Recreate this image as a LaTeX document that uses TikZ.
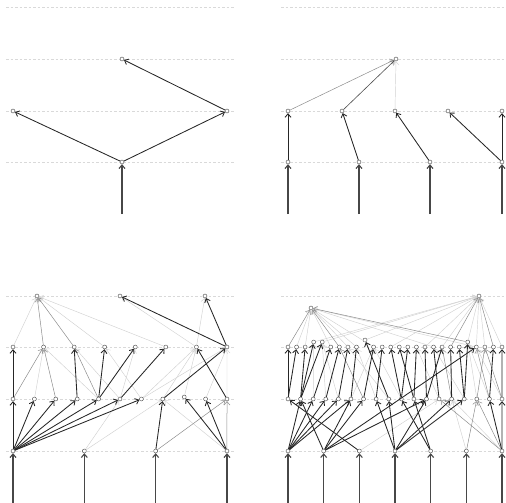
\documentclass[tikz,border=0pt]{standalone}
\usetikzlibrary{arrows.meta}

\begin{document}
\begin{tikzpicture}[x=1pt,y=-1pt]
  \tikzstyle{neuron}=[circle,draw=black!75,fill=white,line width=0.4pt,inner sep=0pt,minimum size=4pt]
  \tikzstyle{guide}=[black!15,dash pattern=on 2.5pt off 2pt,line width=0.5pt]
  \tikzstyle{feed}=[-{Straight Barb[length=3.5pt,width=6pt]},black!72,line width=1.1pt]
  \tikzstyle{dk}=[-{Straight Barb[length=3.5pt,width=6pt]},black!85,line width=0.85pt]
  \tikzstyle{md}=[-{Straight Barb[length=3.5pt,width=6pt]},black!45,line width=0.5pt]
  \tikzstyle{lt}=[-{Straight Barb[length=3.5pt,width=6pt]},black!18,line width=0.45pt]

  \useasboundingbox (0,0) rectangle (506,503);

  % -- Level guides --
  \foreach \yy in {7,59,111,162} {
    \draw[guide] (6,\yy) -- (234,\yy);
    \draw[guide] (281,\yy) -- (506,\yy);
  }
  \foreach \yy in {296,347,399,451} {
    \draw[guide] (6,\yy) -- (234,\yy);
    \draw[guide] (281,\yy) -- (506,\yy);
  }

  % -- Panel a (top left) --
  \node[neuron] (a-1-1) at (122,59) {};
  \node[neuron] (a-2-1) at (13,111) {};
  \node[neuron] (a-2-2) at (227,111) {};
  \node[neuron] (a-3-1) at (122,162) {};
  \coordinate (a-in-1) at (122,214);
  \draw[feed] (a-in-1) -- (a-3-1);
  \draw[dk] (a-3-1) -- (a-2-1);
  \draw[dk] (a-3-1) -- (a-2-2);
  \draw[dk] (a-2-2) -- (a-1-1);

  % -- Panel b (top right) --
  \node[neuron] (b-1-1) at (396,59) {};
  \foreach \k/\xx in {1/288,2/342,3/395,4/448,5/502}
    \node[neuron] (b-2-\k) at (\xx,111) {};
  \foreach \k/\xx in {1/288,2/359,3/430,4/502} {
    \node[neuron] (b-3-\k) at (\xx,162) {};
    \coordinate (b-in-\k) at (\xx,214);
    \draw[feed] (b-in-\k) -- (b-3-\k);
  }
  \foreach \s/\t in {3-1/2-1,3-2/2-2,3-3/2-3,3-4/2-4,3-4/2-5}
    \draw[dk] (b-\s) -- (b-\t);
  \draw[md] (b-2-1) -- (b-1-1);
  \draw[md,black!70,line width=0.6pt] (b-2-2) -- (b-1-1);
  \draw[lt] (b-2-3) -- (b-1-1);

  % -- Panel c (bottom left) --
  \foreach \k/\xx in {1/37,2/120,3/205}
    \node[neuron] (c-1-\k) at (\xx,296) {};
  \foreach \k in {1,...,8} {
    \pgfmathsetmacro\xx{13+30.57*(\k-1)}
    \node[neuron] (c-2-\k) at (\xx,347) {};
  }
  \foreach \k in {1,...,11} {
    \pgfmathsetmacro\xx{13+21.4*(\k-1)}
    \pgfmathsetmacro\yy{\k==9 ? 397 : 399}
    \node[neuron] (c-3-\k) at (\xx,\yy) {};
  }
  \foreach \k in {1,...,4} {
    \pgfmathsetmacro\xx{13+71.33*(\k-1)}
    \node[neuron] (c-4-\k) at (\xx,451) {};
    \coordinate (c-in-\k) at (\xx,503);
    \draw[feed] (c-in-\k) -- (c-4-\k);
  }
  \foreach \s/\t in {4-2/3-6,4-2/3-8,4-4/3-8,3-2/2-2,3-5/2-2,3-6/2-3,3-6/2-5,3-7/2-4,
      3-7/2-7,3-8/2-7,3-9/2-7,3-10/2-8,3-11/2-8,3-7/2-8,2-1/1-1,2-4/1-1,2-6/1-1,2-7/1-2,2-7/1-3}
    \draw[lt] (c-\s) -- (c-\t);
  \foreach \s/\t in {4-3/3-11,4-4/3-11,3-1/2-2,3-3/2-2,3-5/2-3,2-2/1-1,2-3/1-1}
    \draw[md] (c-\s) -- (c-\t);
  \foreach \s/\t in {4-1/3-1,4-1/3-2,4-1/3-3,4-1/3-4,4-1/3-5,4-1/3-6,4-1/3-7,4-3/3-8,
      4-4/3-9,4-4/3-10,3-1/2-1,3-4/2-3,3-5/2-4,3-5/2-5,3-6/2-6,3-8/2-8,3-11/2-7,2-8/1-2,2-8/1-3}
    \draw[dk] (c-\s) -- (c-\t);

  % -- Panel d (bottom right) --
  \node[neuron] (d-1-1) at (311,308) {};
  \node[neuron] (d-1-2) at (479,296) {};
  \foreach \k in {1,...,26} {
    \pgfmathsetmacro\xx{288+8.56*(\k-1)}
    \pgfmathsetmacro\yy{(\k==4 || \k==5 || \k==22) ? 342 : (\k==10 ? 340 : 347)}
    \node[neuron] (d-2-\k) at (\xx,\yy) {};
  }
  \foreach \k in {1,...,18} {
    \pgfmathsetmacro\xx{288+12.59*(\k-1)}
    \node[neuron] (d-3-\k) at (\xx,399) {};
  }
  \foreach \k in {1,...,7} {
    \pgfmathsetmacro\xx{288+35.67*(\k-1)}
    \node[neuron] (d-4-\k) at (\xx,451) {};
    \coordinate (d-in-\k) at (\xx,503);
    \draw[feed] (d-in-\k) -- (d-4-\k);
  }
  \foreach \s/\t in {4-3/3-13,4-6/3-14,4-7/3-14,3-4/2-5,3-3/2-4,3-9/2-8,3-6/2-11,3-8/2-9,
      3-13/2-16,3-16/2-22,3-17/2-22,3-18/2-23,3-15/2-18,3-5/2-5,3-10/2-11,
      2-2/1-1,2-3/1-1,2-6/1-1,2-8/1-1,2-11/1-1,2-18/1-1,2-23/1-1,2-9/1-1,
      2-4/1-2,2-10/1-2,2-13/1-2,2-17/1-2,2-19/1-2,2-22/1-2,2-24/1-2,2-5/1-2,2-23/1-2,2-26/1-2}
    \draw[lt] (d-\s) -- (d-\t);
  \foreach \s/\t in {4-6/3-16,4-7/3-16,4-7/3-13,3-16/2-24,3-18/2-24,3-17/2-23,3-7/2-7,3-14/2-19,
      2-1/1-1,2-7/1-1,2-22/1-1,2-20/1-2,2-25/1-2}
    \draw[md] (d-\s) -- (d-\t);
  \foreach \s/\t in {4-1/3-2,4-1/3-3,4-1/3-4,4-1/3-5,4-1/3-6,4-2/3-2,4-2/3-6,4-2/3-7,4-2/3-12,
      4-2/2-23,4-3/3-1,4-4/3-8,4-4/3-9,4-4/3-12,4-4/3-14,4-4/3-15,4-5/3-10,4-5/3-11,4-7/3-17,4-7/3-18,
      3-1/2-1,3-1/2-2,3-2/2-3,3-2/2-4,3-2/2-5,3-3/2-6,3-4/2-7,3-5/2-8,3-6/2-9,3-7/2-11,3-9/2-10,
      3-8/2-12,3-10/2-13,3-11/2-14,3-10/2-15,3-11/2-16,3-12/2-17,3-13/2-18,3-12/2-19,3-14/2-20,
      3-15/2-21,3-15/2-22,3-17/2-25,3-18/2-26}
    \draw[dk] (d-\s) -- (d-\t);
\end{tikzpicture}
\end{document}
